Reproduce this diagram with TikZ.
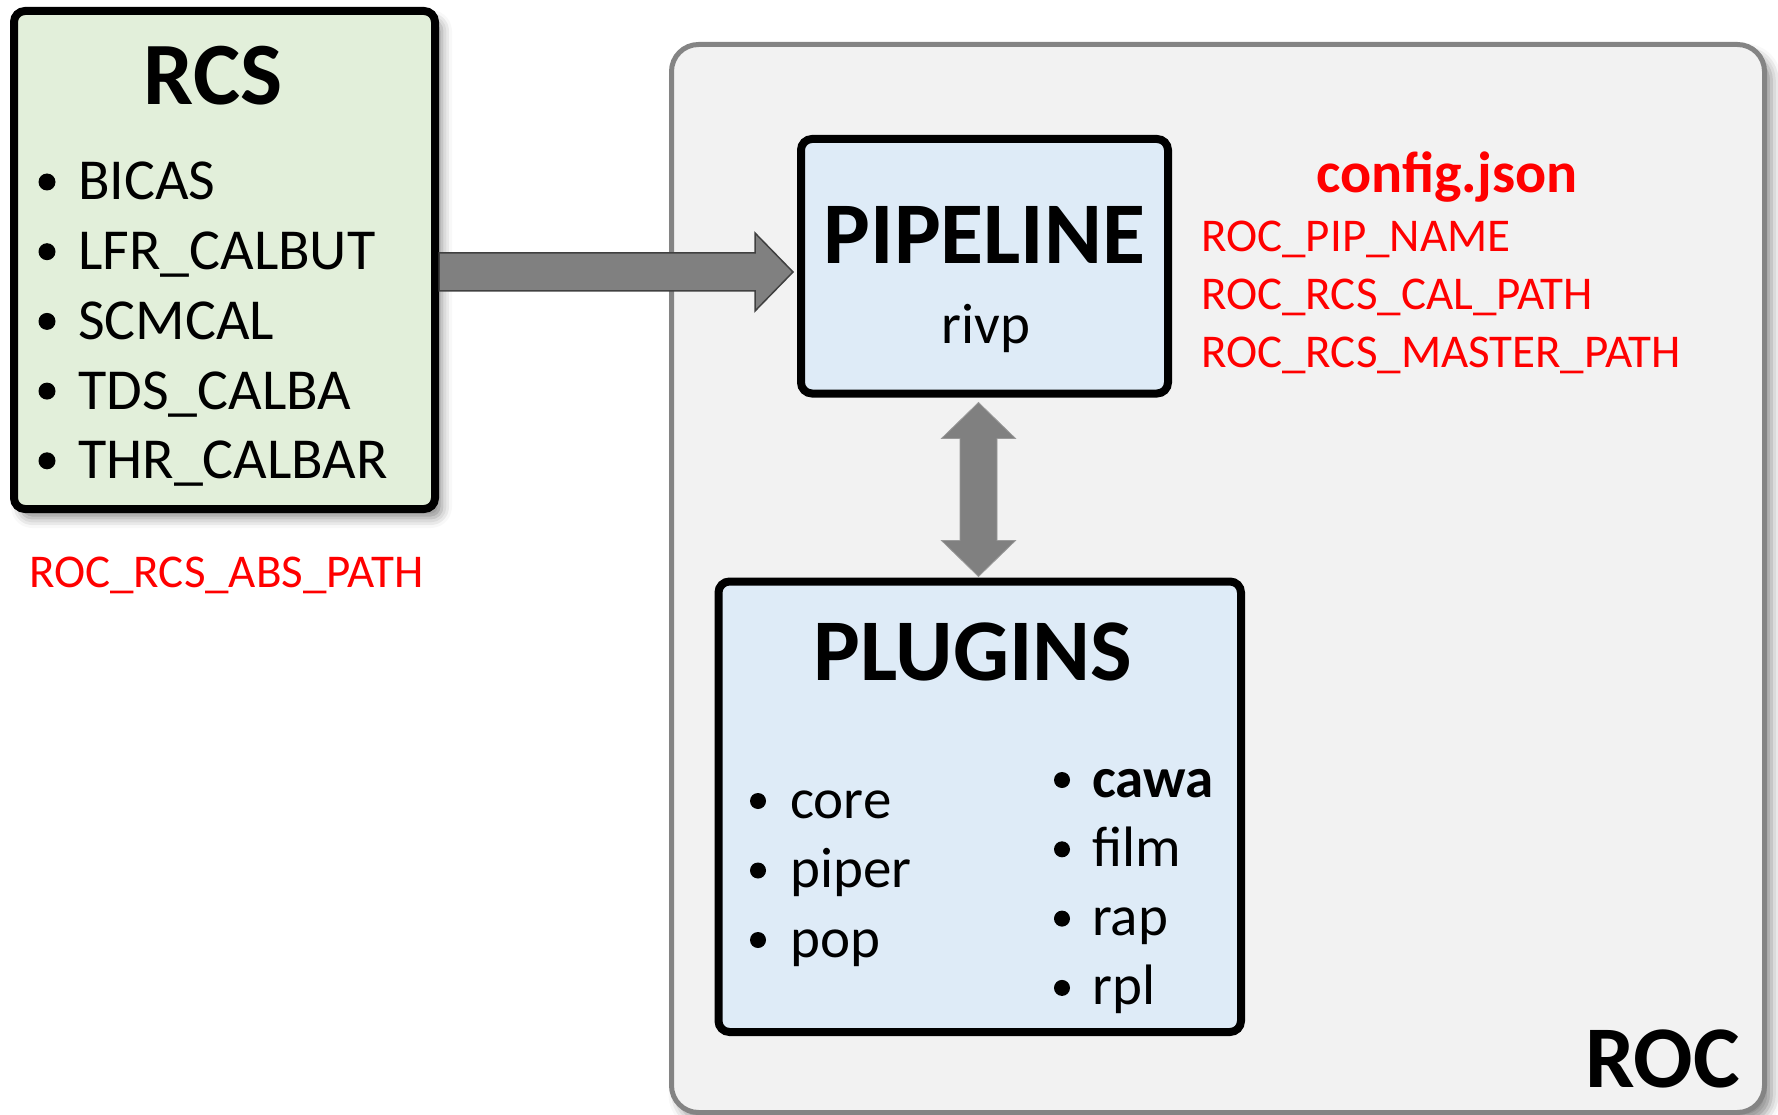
\documentclass[tikz,border=0pt]{standalone}
\usepackage{fontspec}
\setmainfont{Carlito}
\usetikzlibrary{calc,shadows.blur}
\definecolor{rcsfill}{RGB}{226,239,218}
\definecolor{bluefill}{RGB}{222,235,247}
\definecolor{rocfill}{RGB}{242,242,242}
\definecolor{rocline}{RGB}{132,132,132}
\definecolor{arrowgray}{RGB}{128,128,128}
\definecolor{arrowline}{RGB}{64,64,64}
\newcommand\fsz[1]{\fontsize{#1pt}{#1pt}\selectfont}
\tikzset{
  box/.style={draw=black, line width=8pt, rectangle, rounded corners=11pt, inner sep=0pt},
  softshadow/.style={blur shadow={shadow xshift=7pt, shadow yshift=-9pt, shadow blur radius=10pt, shadow opacity=45}},
  titletxt/.style={font=\fsz{89}\bfseries, anchor=base, inner sep=0pt},
  itemtxt/.style={font=\fsz{57}, anchor=base west, inner sep=0pt},
  redtxt/.style={font=\fsz{47}, text=red, anchor=base west, inner sep=0pt},
  bul/.style={circle, fill=black, inner sep=0pt, minimum size=16pt},
  fatarrow/.style={fill=arrowgray, draw=arrowline, line width=1.5pt, line join=miter},
  dblarrow/.style={fill=arrowgray, draw=arrowgray!80!white, line width=0.8pt, line join=miter},
}
\begin{document}
\begin{tikzpicture}[x=1pt,y=-1pt]
\useasboundingbox (0,0) rectangle (1778,1115);
% ROC container
\node[draw=rocline, fill=rocfill, line width=5pt, rounded corners=27pt, rectangle, inner sep=0pt,
      minimum width=1093pt, minimum height=1068pt, softshadow] (roc) at (1218,578.5) {};
\node[font=\fsz{88}\bfseries, anchor=base east, inner sep=0pt] (roct) at (1740,1087) {ROC};
% RCS box
\node[box, fill=rcsfill, minimum width=421pt, minimum height=498pt, softshadow] (rcs) at (224.5,260) {};
\node[titletxt] (rcst) at (213,105) {RCS};
\foreach \t [count=\i] in {BICAS,LFR\_CALBUT,SCMCAL,TDS\_CALBA,THR\_CALBAR} {
  \node[itemtxt, font=\fsz{58}] (rcsi\i) at (78,{200+69.7*(\i-1)}) {\t};
  \node[bul, minimum size=17pt] (rcsb\i) at (47,{182+69.7*(\i-1)}) {};
}
\node[redtxt] (abs) at (29,587) {ROC\_RCS\_ABS\_PATH};
% PIPELINE box
\node[box, fill=bluefill, minimum width=367pt, minimum height=254.5pt] (pipe) at (984.5,266.25) {};
\node[titletxt, font=\fsz{88}\bfseries] (pipet) at (984.5,264) {PIPELINE};
\node[font=\fsz{57}, anchor=base, inner sep=0pt] (rivp) at (986,344) {rivp};
% config
\node[font=\fsz{58}\bfseries, text=red, anchor=base, inner sep=0pt] (cfg) at (1447,193) {config.json};
\node[redtxt] (c1) at (1201,252) {ROC\_PIP\_NAME};
\node[redtxt] (c2) at (1201,310) {ROC\_RCS\_CAL\_PATH};
\node[redtxt] (c3) at (1201,367) {ROC\_RCS\_MASTER\_PATH};
% PLUGINS box
\node[box, fill=bluefill, minimum width=522.5pt, minimum height=450.5pt] (plug) at (979.75,806.75) {};
\node[titletxt, font=\fsz{88}\bfseries] (plugt) at (973,680) {PLUGINS};
\foreach \t [count=\i] in {core,piper,pop} {
  \node[itemtxt] (pl\i) at (790,{818+69.5*(\i-1)}) {\t};
  \node[bul] (plb\i) at (758,{801+69.5*(\i-1)}) {};
}
\foreach \t [count=\i] in {\textbf{cawa},film,rap,rpl} {
  \node[itemtxt] (pr\i) at (1092,{797+69.3*(\i-1)}) {\t};
  \node[bul] (prb\i) at (1062,{780+69.3*(\i-1)}) {};
}
% horizontal fat arrow RCS -> PIPELINE
\coordinate (hy) at (0,272);
\coordinate (hS) at (rcs.east |- hy);
\coordinate (hT) at ($(pipe.west |- hy)+(-4,0)$);
\draw[fatarrow] ($(hS)+(0,-19)$) -- ($(hT)+(-38,-19)$) -- ($(hT)+(-38,-39)$) -- (hT)
  -- ($(hT)+(-38,39)$) -- ($(hT)+(-38,19)$) -- ($(hS)+(0,19)$) -- cycle;
% vertical double arrow PIPELINE <-> PLUGINS
\coordinate (vx) at (978.5,0);
\coordinate (dT) at ($(pipe.south -| vx)+(0,5)$);
\coordinate (dB) at ($(plug.north -| vx)+(0,-1)$);
\draw[dblarrow] (dT) -- ($(dT)+(37,36)$) -- ($(dT)+(18.5,36)$) -- ($(dB)+(18.5,-36)$)
  -- ($(dB)+(37,-36)$) -- (dB) -- ($(dB)+(-37,-36)$) -- ($(dB)+(-18.5,-36)$)
  -- ($(dT)+(-18.5,36)$) -- ($(dT)+(-37,36)$) -- cycle;
\end{tikzpicture}
\end{document}
